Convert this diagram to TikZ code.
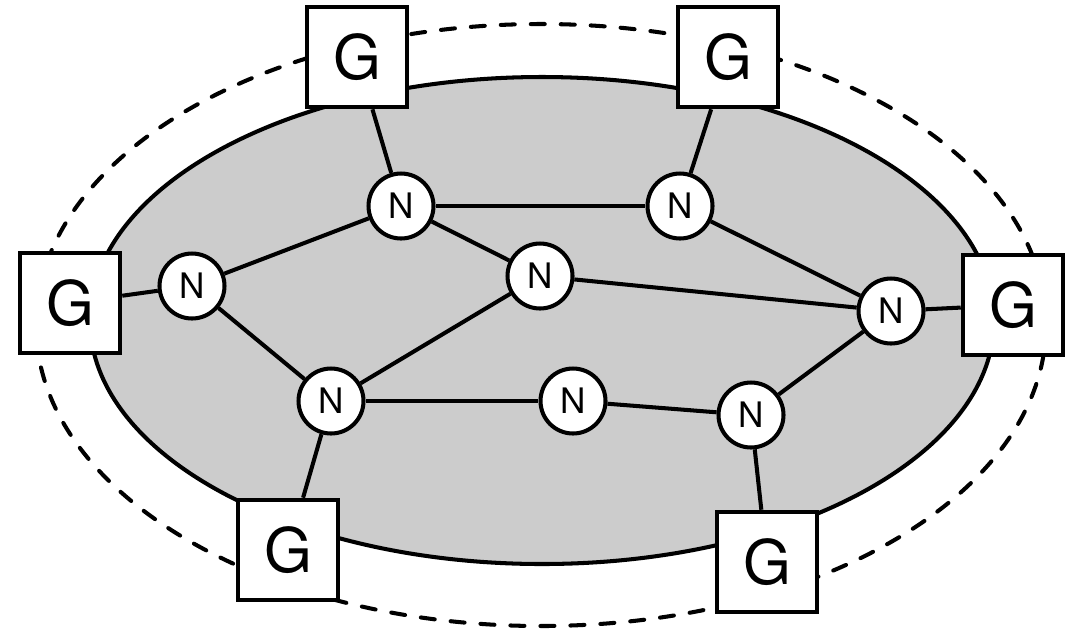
\documentclass[tikz,border=0pt]{standalone}
\usepackage{fontspec}
\setmainfont{TeX Gyre Heros}
\definecolor{regiongray}{HTML}{CCCCCC}
\begin{document}
\begin{tikzpicture}[x=0.02cm,y=-0.02cm,
  line width=2.3pt,
  gw/.style={draw,fill=white,rectangle,line width=2.6pt,minimum size=2.0cm,inner sep=0pt,font=\fontsize{35}{40}\selectfont},
  nd/.style={draw,fill=white,circle,line width=2.3pt,minimum size=1.3cm,inner sep=0pt,font=\fontsize{20}{24}\selectfont},
  link/.style={line width=2.3pt}]
\useasboundingbox (0,0) rectangle (1087,630);
% outer boundary and the shaded core region
\draw[dash pattern=on 0.28cm off 0.32cm,line cap=round] (541,325) ellipse [x radius=505,y radius=301];
\draw[fill=regiongray] (542,320.5) ellipse [x radius=452,y radius=243.5];
% gateways
\node[gw] (gtl) at (357,57) {G};
\node[gw] (gtr) at (728,57) {G};
\node[gw] (gl)  at (70,303) {G};
\node[gw] (gr)  at (1013,305) {G};
\node[gw] (gbl) at (288,550) {G};
\node[gw] (gbr) at (767,562) {G};
% interior nodes
\node[nd] (n1) at (401,206) {N};
\node[nd] (n2) at (680,206) {N};
\node[nd] (n3) at (192,286) {N};
\node[nd] (n4) at (540,276) {N};
\node[nd] (n5) at (891,311) {N};
\node[nd] (n6) at (331,401) {N};
\node[nd] (n7) at (573,401) {N};
\node[nd] (n8) at (751,415) {N};
% links
\draw[link] (gtl) -- (n1);
\draw[link] (gtr) -- (n2);
\draw[link] (gl) -- (n3);
\draw[link] (gr) -- (n5);
\draw[link] (gbl) -- (n6);
\draw[link] (gbr) -- (n8);
\draw[link] (n1) -- (n2);
\draw[link] (n1) -- (n3);
\draw[link] (n1) -- (n4);
\draw[link] (n2) -- (n5);
\draw[link] (n4) -- (n5);
\draw[link] (n3) -- (n6);
\draw[link] (n4) -- (n6);
\draw[link] (n6) -- (n7);
\draw[link] (n7) -- (n8);
\draw[link] (n8) -- (n5);
\end{tikzpicture}
\end{document}
